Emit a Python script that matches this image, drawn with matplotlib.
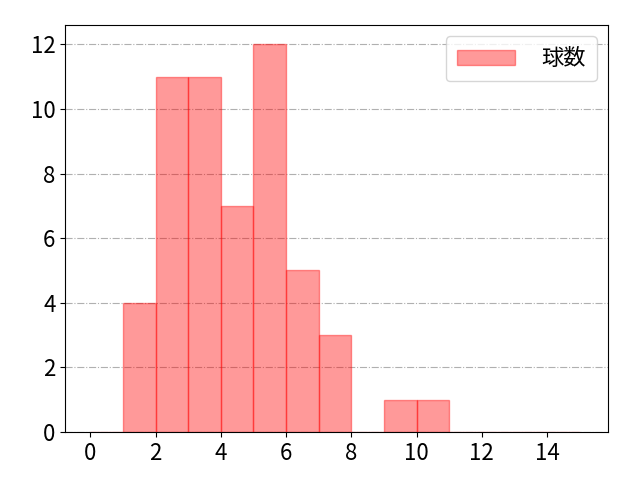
import numpy as np
import matplotlib
matplotlib.use("Agg")
import matplotlib.pyplot as plt

plt.rcParams['font.family'] = ['Noto Sans CJK JP', 'DejaVu Sans']

# pitch count bins (left edge) and counts per bin
bin_edges = list(range(0, 16))
bin_left = [1, 2, 3, 4, 5, 6, 7, 9, 10]
counts = [4, 11, 11, 7, 12, 5, 3, 1, 1]
label = "球数"

fig, ax = plt.subplots(figsize=(6.4, 4.8), dpi=100)
fig.subplots_adjust(left=0.102, right=0.95, top=0.948, bottom=0.1)
ax.hist(bin_left, bins=bin_edges, weights=counts, color="red", alpha=0.4,
        edgecolor="red", linewidth=1, label=label)
ax.set_xlim(-0.77, 15.87)
ax.set_xticks(np.arange(0, 16, 2))
ax.set_yticks(np.arange(0, 13, 2))
ax.yaxis.grid(True, linestyle="-.", color="#b0b0b0")
ax.set_axisbelow(True)
ax.tick_params(labelsize=16)
ax.legend(fontsize=16, handlelength=2.6, handletextpad=1.2, borderpad=0.5,
          loc="upper right")

plt.savefig("out.png")
